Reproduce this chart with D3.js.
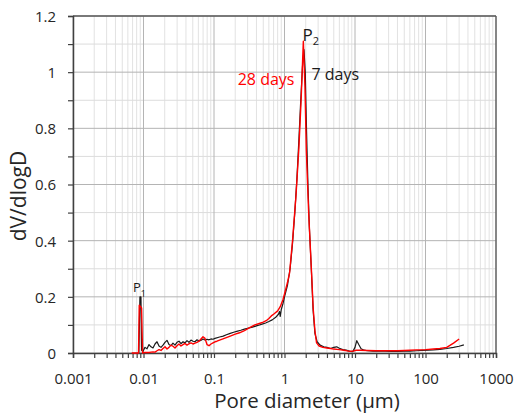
<!DOCTYPE html>
<html>
<head>
<meta charset="utf-8">
<script src="https://cdn.jsdelivr.net/npm/d3@7"></script>
<style>
  html, body { margin: 0; padding: 0; background: #fff; }
  svg { display: block; }
  text { font-family: "Open Sans", "Noto Sans", sans-serif; }
</style>
</head>
<body>
<svg id="chart" width="516" height="417"></svg>
<script>
// ---- Data (pore diameter in µm, dV/dlogD) ----
const xTickLabels = ["0.001", "0.01", "0.1", "1", "10", "100", "1000"];
const yTickLabels = ["0", "0.2", "0.4", "0.6", "0.8", "1", "1.2"];

const d7 = [0.0086,0.0089,0.0092,0.0094,
  0.00984,0.0105,0.01121,0.01197,0.01278,0.01364,0.01456,0.01554,0.01659,0.01771,0.0189,0.02018,0.02154,0.02299,0.02454,0.0262,0.02797,0.02986,0.03187,0.03402,0.03632,0.03877,0.04139,0.04418,0.04716,0.05035,0.05375,0.05737,0.06125,0.06538,0.06979,0.0745,0.07953,0.0849,0.09063,0.09675,0.10328,
  0.12,0.135,0.15,0.17,0.19,0.21,0.24,0.27,0.30,0.34,0.38,0.43,0.48,0.54,0.60,0.67,0.75,0.82,0.85,0.87,0.90,0.95,1.0,1.1,1.2,1.3,1.4,1.5,1.6,1.7,1.8,1.89,1.97,2.05,2.15,2.25,2.4,2.55,2.7,2.9,3.2,3.6,4.0,4.5,5.0,5.5,6.0,6.7,7.5,8.5,9.3,10.0,10.6,11.3,12.2,13.5,15,18,22,27,33,40,50,60,75,90,110,130,160,200,250,300,350];
const v7 = [0,0.2,0.2,0.01,
  0.006,0.02,0.015,0.03,0.022,0.018,0.032,0.04,0.025,0.02,0.028,0.038,0.045,0.03,0.026,0.035,0.028,0.038,0.042,0.033,0.04,0.036,0.044,0.038,0.046,0.042,0.04,0.047,0.043,0.045,0.05,0.046,0.049,0.047,0.05,0.049,0.052,
  0.057,0.06,0.065,0.07,0.074,0.077,0.081,0.085,0.088,0.091,0.095,0.099,0.103,0.107,0.112,0.118,0.127,0.138,0.148,0.13,0.155,0.175,0.2,0.24,0.3,0.39,0.5,0.62,0.76,0.9,1.02,1.08,1.0,0.8,0.6,0.45,0.3,0.15,0.07,0.04,0.028,0.022,0.02,0.016,0.02,0.022,0.017,0.012,0.01,0.006,0.005,0.02,0.044,0.03,0.015,0.01,0.008,0.007,0.007,0.007,0.006,0.006,0.007,0.007,0.008,0.009,0.01,0.011,0.013,0.016,0.02,0.024,0.029];

const d28 = [0.0068,0.0085,0.0087,0.0094,0.0097,0.0105,
  0.01197,0.01278,0.01364,0.01456,0.01554,0.01659,0.01771,0.0189,0.02018,0.02154,0.02299,0.02454,0.0262,0.02797,0.02986,0.03187,0.03402,0.03632,0.03877,0.04139,0.04418,0.04716,0.05035,0.05375,0.05737,0.06125,0.06538,0.06979,0.0745,0.07953,0.0849,0.09063,0.09675,0.10328,
  0.11,0.12,0.14,0.17,0.2,0.23,0.27,0.32,0.38,0.45,0.5,0.55,0.6,0.65,0.7,0.8,0.87,0.95,1.0,1.1,1.18,1.3,1.45,1.6,1.72,1.85,1.95,2.04,2.2,2.3,2.42,2.55,2.7,2.85,3.1,3.5,4,4.5,5,6,7,8.5,9.5,10.5,12,15,20,25,30,40,50,60,75,100,130,160,200,250,300];
const v28 = [0,0,0.17,0.16,0,0.002,
  0.002,0.003,0.004,0.003,0.008,0.012,0.009,0.016,0.022,0.014,0.02,0.028,0.024,0.018,0.026,0.032,0.025,0.03,0.034,0.028,0.033,0.036,0.032,0.035,0.038,0.042,0.05,0.058,0.052,0.03,0.026,0.032,0.036,0.04,
  0.042,0.046,0.052,0.06,0.067,0.072,0.08,0.09,0.1,0.106,0.11,0.115,0.123,0.132,0.138,0.15,0.165,0.19,0.21,0.25,0.285,0.4,0.555,0.73,0.9,1.11,0.95,0.72,0.5,0.4,0.285,0.16,0.08,0.036,0.025,0.02,0.018,0.016,0.014,0.012,0.01,0.006,0.007,0.01,0.01,0.009,0.008,0.008,0.008,0.008,0.009,0.01,0.011,0.012,0.014,0.016,0.02,0.035,0.05];

const series = [
  { name: "7 days", color: "#1a1a1a", width: 1.2, d: d7, v: v7 },
  { name: "28 days", color: "#ff0000", width: 1.4, d: d28, v: v28 }
];

// ---- Layout ----
const svg = d3.select("#chart");
const L = 73, R = 496, T = 16, B = 353;
const x = d3.scaleLog().domain([0.001, 1000]).range([L, R]);
const y = d3.scaleLinear().domain([0, 1.2]).range([B, T]);

// tick value sets
const decades = xTickLabels.map(Number);
const xMinor = [];
for (let i = 0; i < decades.length - 1; i++) for (let k = 2; k <= 9; k++) xMinor.push(+(decades[i] * k).toPrecision(3));
const xAll = decades.concat(xMinor).sort((a, b) => a - b);
const yMajor = yTickLabels.map(Number);
const yAll = d3.range(0, 13).map(i => +(i * 0.1).toFixed(1));

// ---- Gridlines ----
const grid = svg.append("g");
grid.selectAll(".vmin").data(xMinor).join("line")
  .attr("x1", d => x(d)).attr("x2", d => x(d)).attr("y1", T).attr("y2", B)
  .attr("stroke", "#e2e2e2").attr("stroke-width", 1);
grid.selectAll(".hmin").data(yAll.filter(v => !yMajor.includes(v))).join("line")
  .attr("x1", L).attr("x2", R).attr("y1", d => y(d)).attr("y2", d => y(d))
  .attr("stroke", "#dcdcdc").attr("stroke-width", 1);
grid.selectAll(".vmaj").data(decades).join("line")
  .attr("x1", d => x(d)).attr("x2", d => x(d)).attr("y1", T).attr("y2", B)
  .attr("stroke", "#b4b4b4").attr("stroke-width", 1);
grid.selectAll(".hmaj").data(yMajor).join("line")
  .attr("x1", L).attr("x2", R).attr("y1", d => y(d)).attr("y2", d => y(d))
  .attr("stroke", "#b4b4b4").attr("stroke-width", 1);

// frame top/right
svg.append("line").attr("x1", L).attr("x2", R).attr("y1", T).attr("y2", T).attr("stroke", "#595959").attr("stroke-width", 1.3);
svg.append("line").attr("x1", R).attr("x2", R).attr("y1", T).attr("y2", B).attr("stroke", "#595959").attr("stroke-width", 1.3);

// ---- Axes ----
const xAxis = d3.axisBottom(x).tickValues(xAll).tickSize(5).tickPadding(15)
  .tickFormat(d => { const i = decades.indexOf(d); return i >= 0 ? xTickLabels[i] : ""; });
const yAxis = d3.axisLeft(y).tickValues(yAll).tickSize(5).tickPadding(12)
  .tickFormat(d => { const i = yMajor.indexOf(d); return i >= 0 ? yTickLabels[i] : ""; });

const gx = svg.append("g").attr("transform", `translate(0,${B})`).call(xAxis);
const gy = svg.append("g").attr("transform", `translate(${L},0)`).call(yAxis);
[gx, gy].forEach(g => {
  g.select(".domain").attr("stroke", "#404040").attr("stroke-width", 1.5);
  g.selectAll(".tick line").attr("stroke", "#404040").attr("stroke-width", 1.2);
  g.selectAll(".tick text").attr("fill", "#262626")
    .style("font-family", '"Open Sans", sans-serif').style("font-size", "15px");
});
gy.selectAll(".tick text").attr("dy", "0.36em");

// ---- Lines ----
const line = d3.line().x(p => x(p[0])).y(p => y(p[1]));
svg.append("g").selectAll("path").data(series).join("path")
  .attr("d", s => line(s.d.map((d, i) => [d, s.v[i]])))
  .attr("fill", "none").attr("stroke", s => s.color).attr("stroke-width", s => s.width)
  .attr("stroke-linejoin", "round");

// ---- Annotations ----
const p1 = svg.append("text").attr("x", 133).attr("y", 292).attr("fill", "#1a1a1a").style("font-size", "13px");
p1.append("tspan").text("P");
p1.append("tspan").attr("dy", 5).style("font-size", "9px").text("1");

const p2 = svg.append("text").attr("x", 302.5).attr("y", 40.5).attr("fill", "#1a1a1a").style("font-size", "17px");
p2.append("tspan").text("P");
p2.append("tspan").attr("dy", 4.5).style("font-size", "11px").text("2");

svg.append("text").attr("x", 294.5).attr("y", 85).attr("text-anchor", "end")
  .attr("fill", "#ff0000").style("font-size", "16px").text("28 days");
svg.append("text").attr("x", 311.5).attr("y", 80)
  .attr("fill", "#1a1a1a").style("font-size", "16px").text("7 days");

// ---- Axis titles ----
svg.append("text").attr("x", 307).attr("y", 408).attr("text-anchor", "middle")
  .attr("fill", "#262626").style("font-size", "20.5px").text("Pore diameter (µm)");
svg.append("text").attr("transform", "translate(26,196) rotate(-90)").attr("text-anchor", "middle")
  .attr("fill", "#262626").style("font-size", "21px").text("dV/dlogD");
</script>
</body>
</html>
